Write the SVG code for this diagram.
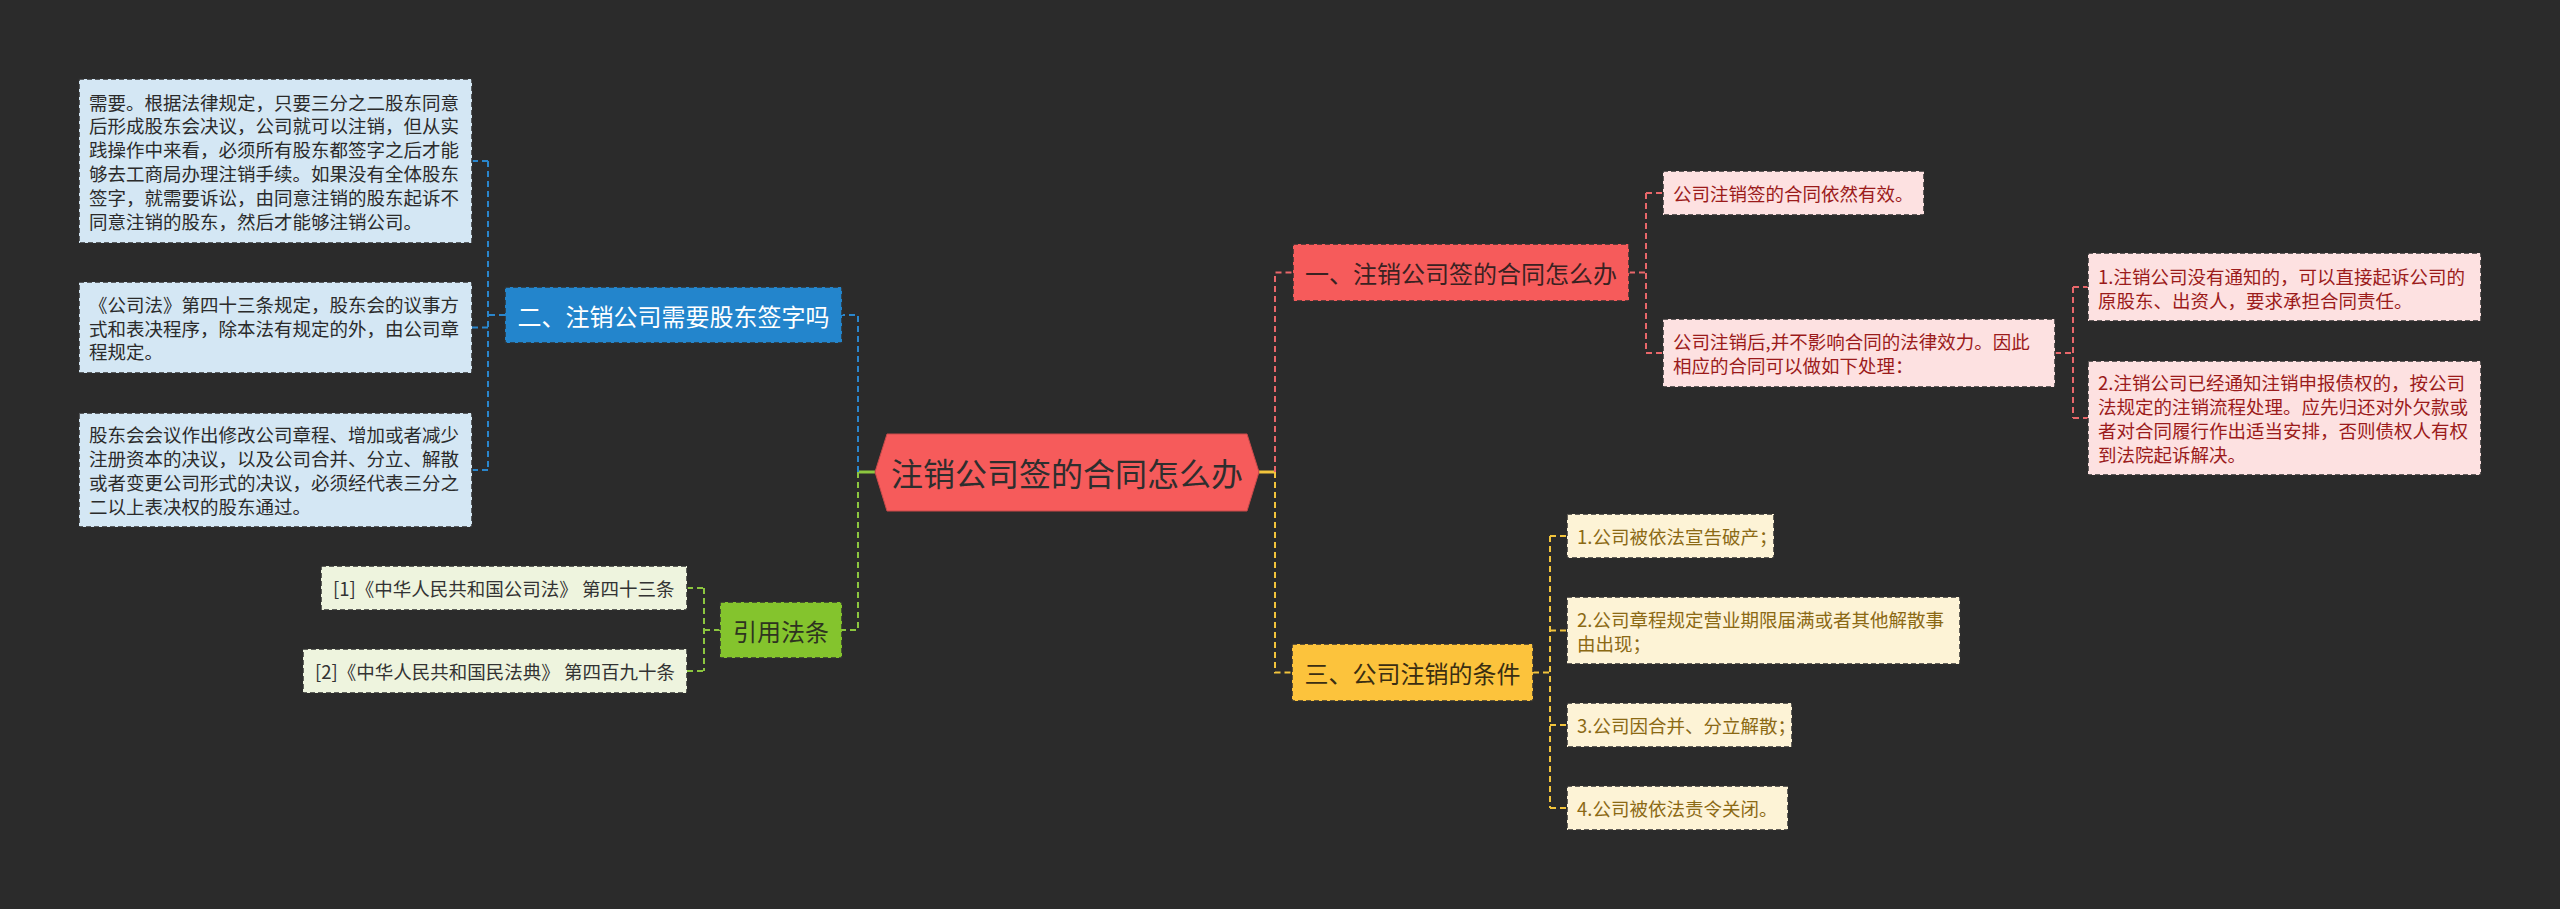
<svg xmlns="http://www.w3.org/2000/svg" width="2560" height="909" viewBox="0 0 2560 909">
<style>
text{font-family:"Noto Sans CJK SC","Noto Sans",sans-serif;dominant-baseline:central}
.leaf{font-size:18.5px}
.br{font-size:24px;text-anchor:middle}
.bd{stroke:#2f2f2f;stroke-width:1.5;stroke-dasharray:5 3}
.c{fill:none;stroke-width:2;stroke-dasharray:6 4}
.cb{stroke:#2a86cc}.cg{stroke:#8cc63f}.cr{stroke:#e8676a}.cy{stroke:#f2c43c}
.lb{fill:#d4e7f4}.lbt{fill:#2b2b2b}
.lg{fill:#eef4de}.lgt{fill:#333333}
.lp{fill:#fde1e1}.lpt{fill:#9b1b1b}
.ly{fill:#fdf3d6}.lyt{fill:#8b6914}
</style>
<rect width="2560" height="909" fill="#2b2b2b"/>
<g id="connectors">
<path d="M875,472H858" stroke="#8cc63f" stroke-width="3" fill="none"/>
<path d="M1259,472H1275" stroke="#f2c43c" stroke-width="3" fill="none"/>
<path class="c cb" d="M858,472V315H842"/>
<path class="c cb" d="M505,315H488M488,161V470M472,161H488M472,327.5H488M472,470H488"/>
<path class="c cg" d="M858,472V630H842"/>
<path class="c cg" d="M720,630H704M704,588V671M687,588H704M687,671H704"/>
<path class="c cr" d="M1275,472V272.5H1293"/>
<path class="c cr" d="M1629,272.5H1646M1646,193V353M1646,193H1663M1646,353H1663"/>
<path class="c cr" d="M2055,353H2073M2073,287V418M2073,287H2088M2073,418H2088"/>
<path class="c cy" d="M1275,472V672.5H1292"/>
<path class="c cy" d="M1533,672.5H1550M1550,536V808M1550,536H1567M1550,630.5H1567M1550,725H1567M1550,808H1567"/>
</g>
<g id="center">
<polygon points="875,472 887,434 1247,434 1259,472 1247,511 887,511" fill="#f65b5b" stroke="#c94a4a" stroke-width="1"/>
<text x="1067" y="472" font-size="32" text-anchor="middle" fill="#2e2e2e">注销公司签的合同怎么办</text>
</g>
<g id="b2">
<rect x="505" y="287" width="337" height="56" fill="#2385cc" class="bd"/>
<text class="br" x="673.5" y="315" fill="#ffffff">二、注销公司需要股东签字吗</text>
</g>
<g id="b2-1">
<rect x="79" y="79" width="393" height="164" class="lb bd"/>
<text class="leaf lbt" x="89"><tspan x="89" y="101.5">需要。根据法律规定，只要三分之二股东同意</tspan><tspan x="89" y="125.3">后形成股东会决议，公司就可以注销，但从实</tspan><tspan x="89" y="149.1">践操作中来看，必须所有股东都签字之后才能</tspan><tspan x="89" y="172.9">够去工商局办理注销手续。如果没有全体股东</tspan><tspan x="89" y="196.7">签字，就需要诉讼，由同意注销的股东起诉不</tspan><tspan x="89" y="220.5">同意注销的股东，然后才能够注销公司。</tspan></text>
</g>
<g id="b2-2">
<rect x="79" y="282" width="393" height="91" class="lb bd"/>
<text class="leaf lbt"><tspan x="89" y="303.7">《公司法》第四十三条规定，股东会的议事方</tspan><tspan x="89" y="327.5">式和表决程序，除本法有规定的外，由公司章</tspan><tspan x="89" y="351.3">程规定。</tspan></text>
</g>
<g id="b2-3">
<rect x="79" y="413" width="393" height="114" class="lb bd"/>
<text class="leaf lbt"><tspan x="89" y="434.3">股东会会议作出修改公司章程、增加或者减少</tspan><tspan x="89" y="458.1">注册资本的决议，以及公司合并、分立、解散</tspan><tspan x="89" y="481.9">或者变更公司形式的决议，必须经代表三分之</tspan><tspan x="89" y="505.7">二以上表决权的股东通过。</tspan></text>
</g>
<g id="ref">
<rect x="720" y="602" width="122" height="56" fill="#84c42d" class="bd"/>
<text class="br" x="781" y="630" fill="#2e3320">引用法条</text>
</g>
<g id="ref-1">
<rect x="321" y="566" width="366" height="44" class="lg bd"/>
<text class="leaf lgt" x="333" y="588">[1]《中华人民共和国公司法》 第四十三条</text>
</g>
<g id="ref-2">
<rect x="303" y="649" width="384" height="44" class="lg bd"/>
<text class="leaf lgt" x="315" y="671">[2]《中华人民共和国民法典》 第四百九十条</text>
</g>
<g id="b1">
<rect x="1293" y="244" width="336" height="57" fill="#f65b5b" class="bd"/>
<text class="br" x="1461" y="272.5" fill="#3a2222">一、注销公司签的合同怎么办</text>
</g>
<g id="b1-1">
<rect x="1663" y="171" width="261" height="44" class="lp bd"/>
<text class="leaf lpt" x="1673" y="193">公司注销签的合同依然有效。</text>
</g>
<g id="b1-2">
<rect x="1663" y="319" width="392" height="68" class="lp bd"/>
<text class="leaf lpt"><tspan x="1673" y="341">公司注销后,并不影响合同的法律效力。因此</tspan><tspan x="1673" y="365">相应的合同可以做如下处理：</tspan></text>
</g>
<g id="b1-2-1">
<rect x="2088" y="253" width="393" height="68" class="lp bd"/>
<text class="leaf lpt"><tspan x="2098" y="276">1.注销公司没有通知的，可以直接起诉公司的</tspan><tspan x="2098" y="300">原股东、出资人，要求承担合同责任。</tspan></text>
</g>
<g id="b1-2-2">
<rect x="2088" y="361" width="393" height="114" class="lp bd"/>
<text class="leaf lpt"><tspan x="2098" y="382.3">2.注销公司已经通知注销申报债权的，按公司</tspan><tspan x="2098" y="406.1">法规定的注销流程处理。应先归还对外欠款或</tspan><tspan x="2098" y="429.9">者对合同履行作出适当安排，否则债权人有权</tspan><tspan x="2098" y="453.7">到法院起诉解决。</tspan></text>
</g>
<g id="b3">
<rect x="1292" y="644" width="241" height="57" fill="#fcc33c" class="bd"/>
<text class="br" x="1412.5" y="672.5" fill="#3a2e12">三、公司注销的条件</text>
</g>
<g id="b3-1">
<rect x="1567" y="514" width="207" height="44" class="ly bd"/>
<text class="leaf lyt" x="1577" y="536">1.公司被依法宣告破产；</text>
</g>
<g id="b3-2">
<rect x="1567" y="597" width="393" height="67" class="ly bd"/>
<text class="leaf lyt"><tspan x="1577" y="619">2.公司章程规定营业期限届满或者其他解散事</tspan><tspan x="1577" y="643">由出现；</tspan></text>
</g>
<g id="b3-3">
<rect x="1567" y="703" width="225" height="44" class="ly bd"/>
<text class="leaf lyt" x="1577" y="725">3.公司因合并、分立解散；</text>
</g>
<g id="b3-4">
<rect x="1567" y="786" width="221" height="44" class="ly bd"/>
<text class="leaf lyt" x="1577" y="808">4.公司被依法责令关闭。</text>
</g>
</svg>
